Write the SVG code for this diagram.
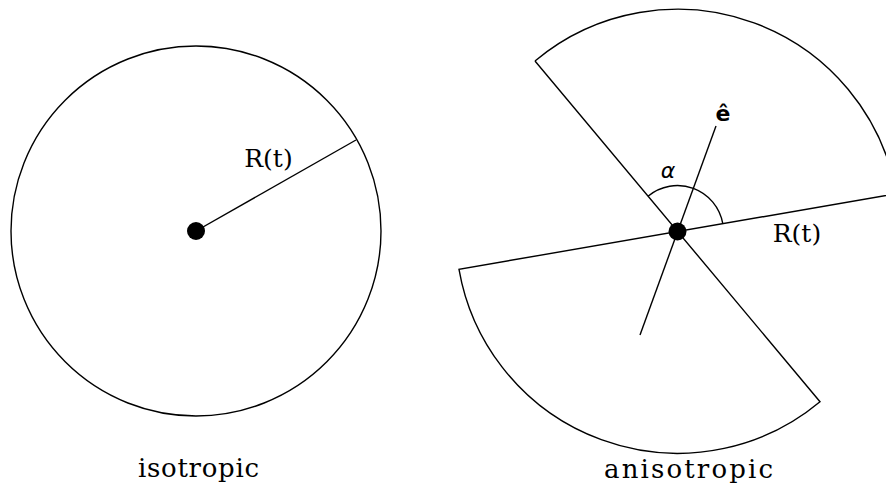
<svg xmlns="http://www.w3.org/2000/svg" width="886" height="486" viewBox="0 0 886 486">
<style>
.ln{fill:none;stroke:#000;stroke-width:1.4}
.lbl{font-family:"DejaVu Serif",serif;font-size:25px;fill:#000;text-anchor:middle}
.cap{font-family:"DejaVu Serif",serif;font-size:26px;fill:#000;text-anchor:middle}
.dot{fill:#000}
</style>
<rect width="886" height="486" fill="#fff"/>
<g id="isotropic">
<circle class="ln" cx="196" cy="231" r="185"/>
<line class="ln" x1="196" y1="231" x2="356" y2="140"/>
<circle class="dot" cx="196" cy="231" r="9"/>
<text class="lbl" x="268.5" y="167">R(t)</text>
<text class="cap" x="198.5" y="477" textLength="121" lengthAdjust="spacing">isotropic</text>
</g>
<g id="anisotropic">
<path class="ln" d="M535 61 L820 401.7 A222 222 0 0 1 459 269.3 L896.3 193.7"/>
<path class="ln" d="M535 61 A222 222 0 0 1 896.3 193.7"/>
<line class="ln" x1="640" y1="335" x2="716" y2="126"/>
<path class="ln" d="M648 196.2 A46 46 0 0 1 722.8 223.7"/>
<circle class="dot" cx="677.5" cy="231.5" r="9"/>
<text class="lbl" x="797" y="242">R(t)</text>
<text x="668" y="178" font-family="DejaVu Sans,sans-serif" font-style="italic" font-size="22" text-anchor="middle">α</text>
<text x="723" y="121" font-family="DejaVu Sans,sans-serif" font-weight="bold" font-size="22" text-anchor="middle">ê</text>
<text class="cap" x="688.5" y="478" textLength="169" lengthAdjust="spacing">anisotropic</text>
</g>
</svg>
